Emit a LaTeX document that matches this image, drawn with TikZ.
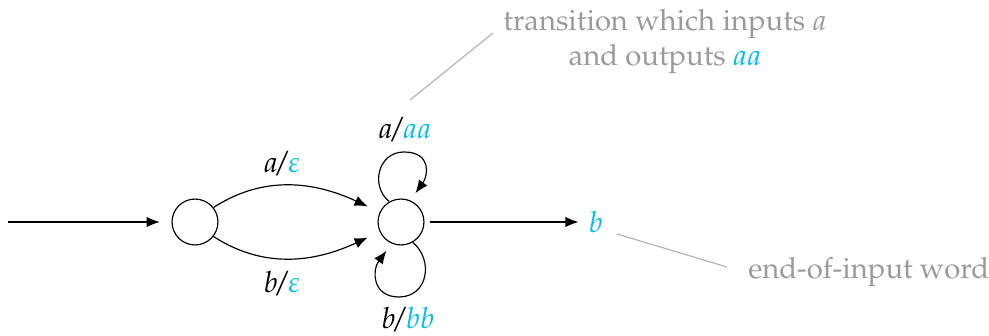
\documentclass[tikz,border=0pt]{standalone}
\usepackage[T1]{fontenc}
\usepackage{mathpazo}
\usepackage{amsmath,tikz}
\usetikzlibrary{arrows.meta,positioning}
\definecolor{Cian}{HTML}{00BEF2}
\definecolor{Gris}{HTML}{9A9A9A}
\definecolor{GrisLinea}{HTML}{B4B4B4}
\newcommand{\etiq}[2]{$#1\mkern-3mu/\mkern-2mu\textcolor{Cian}{#2}$}
\tikzset{
  estado/.style={draw,circle,minimum size=15.7pt,inner sep=0pt},
  flecha/.style={-{Latex[length=4.5pt,width=3.6pt]}},
  nota/.style={Gris,align=center},
}
\begin{document}
\begin{tikzpicture}[x=0.342pt,y=0.342pt]
\useasboundingbox (0,0) rectangle (989,336);
\node[estado] (q0) at (195,114) {};
\node[estado] (q1) at (401,114) {};
\coordinate (ini) at (8,114);
\node[Cian] (fin) at (596,114) {$b$};
\draw[flecha,shorten >=4pt] (ini)--(q0) ;
\draw[flecha,shorten >=4.5pt] (q0.38) to[out=33,in=155] node[pos=0.42,above=0pt]{\etiq{a}{\varepsilon}} (q1);
\draw[flecha,shorten >=4.5pt] (q0.-38) to[out=-33,in=-155] node[pos=0.42,below=1pt]{\etiq{b}{\varepsilon}} (q1);
\draw[flecha,shorten >=3pt] (q1.120) .. controls (370,150) and (378,184) .. (404,184) .. controls (432,184) and (428,160) .. (q1.67);
\draw[flecha,shorten >=3pt] (q1.-60) .. controls (434,76) and (428,39) .. (399,39) .. controls (372,39) and (372,66) .. (q1.-113);
\node (la) at (405,206) {\etiq{a}{aa}};
\node (lb) at (408,16) {\etiq{b}{bb}};
\draw[flecha,shorten <=2pt] (q1)--(fin);
% notas
\node[nota] (n1) at (665,294) {transition which inputs $a$\\and outputs $\textcolor{Cian}{aa}$};
\coordinate (p1) at (410,236);
\coordinate (p2) at (493,303);
\draw[GrisLinea] (p1)--(p2);
\node[nota,anchor=west] (n2) at (738,64) {end-of-input word};
\coordinate (p3) at (617,102);
\coordinate (p4) at (727,69);
\draw[GrisLinea] (p3)--(p4);
\end{tikzpicture}
\end{document}
